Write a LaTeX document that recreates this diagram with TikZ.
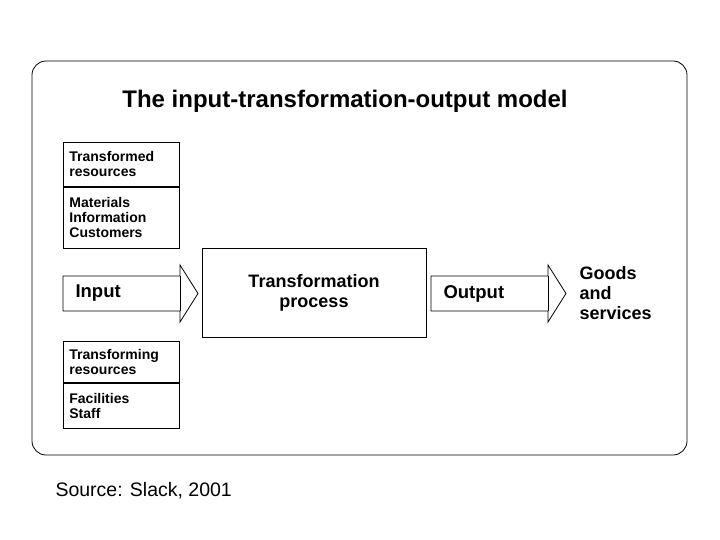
\documentclass[tikz,border=0pt]{standalone}
\usepackage{fontspec}
\setmainfont{Liberation Sans}
\usetikzlibrary{positioning}
\tikzset{
  resbox/.style={draw, thick, anchor=north west, minimum width=116pt, align=left, text width=104pt, inner xsep=6pt, inner ysep=3pt, font=\bfseries\fontsize{14}{15}\selectfont},
  flowarrow/.style={draw, thick, fill=white},
}
\begin{document}
\begin{tikzpicture}[x=1pt,y=-1pt]
  \useasboundingbox (0,0) rectangle (720,540);
  % Frame
  \draw[thick, rounded corners=14pt] (32,61) rectangle (687,455);
  \node[font=\bfseries\fontsize{24}{28}\selectfont] (title) at (345,101) {The input-transformation-output model};
  % Resources
  \node[resbox, minimum height=44pt] (transformed) at (63,142) {Transformed\\resources};
  \node[resbox, minimum height=61pt, anchor=north west] (materials) at (transformed.south west) {Materials\\Information\\Customers};
  \node[resbox, minimum height=41pt] (transforming) at (63,341) {Transforming\\resources};
  \node[resbox, minimum height=45pt, anchor=north west] (facilities) at (transforming.south west) {Facilities\\Staff};
  % Input arrow
  \draw[flowarrow] (63,276) -- (180,276) -- (180,265) -- (198,293.5) -- (180,322) -- (180,311) -- (63,311) -- cycle;
  \draw[thick] (180,276) -- (180,311);
  \node[font=\fontsize{18.5}{20}\selectfont\bfseries, anchor=west] (input) at (72,293.5) {Input};
  % Process
  \node[draw, thick, minimum width=224pt, minimum height=89pt, align=center, font=\bfseries\fontsize{18}{20}\selectfont] (process) at (314,292.5) {Transformation\\process};
  % Output arrow
  \draw[flowarrow] (431,276) -- (548,276) -- (548,265) -- (566,293.5) -- (548,322) -- (548,311) -- (431,311) -- cycle;
  \draw[thick] (548,276) -- (548,311);
  \node[font=\fontsize{18.5}{20}\selectfont\bfseries, anchor=west] (output) at (440,293.5) {Output};
  \node[font=\bfseries\fontsize{18}{20}\selectfont, align=left, anchor=west] (goods) at (576,293) {Goods\\and\\services};
  % Source
  \node[font=\fontsize{19.5}{22}\selectfont, anchor=west] (source) at (52,491) {Source: Slack, 2001};
\end{tikzpicture}
\end{document}
